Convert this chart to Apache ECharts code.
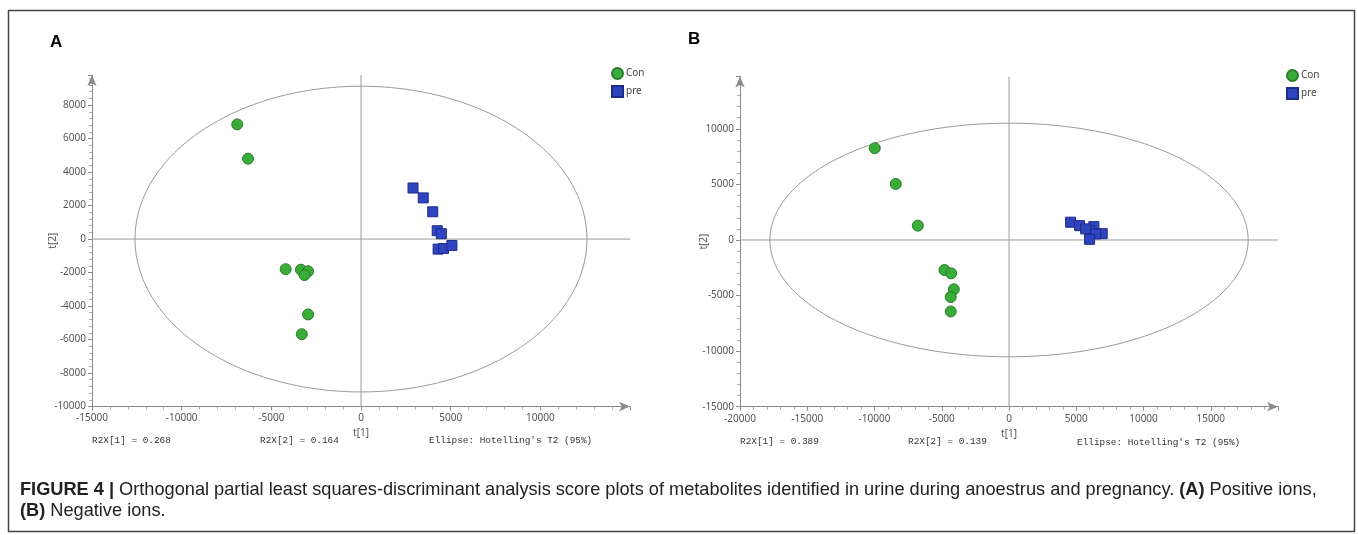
<!DOCTYPE html>
<html>
<head>
<meta charset="utf-8">
<script src="https://cdn.jsdelivr.net/npm/echarts@6/dist/echarts.min.js"></script>
<style>
html,body{margin:0;padding:0;background:#fff;}
#chart{width:1358px;height:535px;}
</style>
</head>
<body>
<div id="chart"></div>
<script>
// ---- Data ----
const conA = [[-6900, 6850], [-6300, 4800], [-4200, -1800], [-3350, -1830], [-2950, -1920], [-3150, -2150], [-2950, -4500], [-3300, -5680]];
const preA = [[2900, 3050], [3470, 2460], [4000, 1630], [4250, 500], [4480, 320], [4300, -600], [4600, -560], [5070, -380]];
const conB = [[-9980, 8260], [-8420, 5040], [-6780, 1290], [-4800, -2700], [-4300, -3000], [-4100, -4440], [-4330, -5130], [-4330, -6430]];
const preB = [[4580, 1600], [5250, 1290], [6310, 1200], [5990, 840], [6930, 570], [6440, 540], [5990, 60], [5700, 1000]];
const ellipseRadiiA = [12600, 9130];
const ellipseRadiiB = [17780, 10510];
const xRangeA = [-15000, 15000], yRangeA = [-10000, 9800];
const xRangeB = [-20000, 20000], yRangeB = [-15000, 14700];
const tickStepA = [5000, 2000], tickStepB = [5000, 5000];
const r2xA = ['R2X[1] = 0.268', 'R2X[2] = 0.164'];
const r2xB = ['R2X[1] = 0.389', 'R2X[2] = 0.139'];
const ellipseNote = "Ellipse: Hotelling's T2 (95%)";
const legendNames = ['Con', 'pre'];
const captionParts = [
  ['b', 'FIGURE 4 |'],
  ['r', ' Orthogonal partial least squares-discriminant analysis score plots of metabolites identified in urine during anoestrus and pregnancy. '],
  ['b', '(A)'],
  ['r', ' Positive ions,']
];
const captionLine2 = [['b', '(B)'], ['r', ' Negative ions.']];

function ellipsePts(r) {
  const pts = [];
  for (let i = 0; i <= 240; i++) {
    const t = i / 240 * Math.PI * 2;
    pts.push([r[0] * Math.cos(t), r[1] * Math.sin(t)]);
  }
  return pts;
}

// fit caption font size so the first line spans the same width as the reference
const capFamily = 'Liberation Sans, Arial, sans-serif';
const ctx = document.createElement('canvas').getContext('2d');
let w100 = 0;
captionParts.forEach(p => {
  ctx.font = (p[0] === 'b' ? 'bold ' : '') + '100px ' + capFamily;
  w100 += ctx.measureText(p[1]).width;
});
const capSize = Math.max(12, Math.min(20, 1298 / w100 * 100));
function richText(parts) {
  return parts.map(p => p[0] === 'b' ? '{b|' + p[1] + '}' : p[1]).join('');
}

const axisColor = '#8a8a8a';
const labelStyle = { color: '#555', fontSize: 10, fontFamily: 'Noto Sans, sans-serif', formatter: v => String(v) };

function xAxis(gi, range, step) {
  return {
    type: 'value', gridIndex: gi, min: range[0], max: range[1], interval: step,
    name: 't[1]', nameLocation: 'middle', nameGap: 22,
    nameTextStyle: { color: '#555', fontSize: 10, fontFamily: 'Noto Sans, sans-serif' },
    axisLine: { show: true, onZero: false, symbol: ['none', 'arrow'], symbolSize: [7, 11], lineStyle: { color: axisColor, width: 1 } },
    axisTick: { show: true, length: 4, inside: false, lineStyle: { color: axisColor } },
    minorTick: { show: true, splitNumber: 5, length: 3, lineStyle: { color: '#aaa' } },
    axisLabel: Object.assign({ showMaxLabel: false, margin: 7 }, labelStyle),
    splitLine: { show: false }
  };
}
function yAxis(gi, range, step, gap) {
  return {
    type: 'value', gridIndex: gi, min: range[0], max: range[1], interval: step,
    name: 't[2]', nameLocation: 'middle', nameGap: gap, nameMoveOverlap: false,
    nameTextStyle: { color: '#555', fontSize: 10, fontFamily: 'Noto Sans, sans-serif' },
    axisLine: { show: true, onZero: false, symbol: ['none', 'arrow'], symbolSize: [7, 11], lineStyle: { color: axisColor, width: 1 } },
    axisTick: { show: true, length: 4, lineStyle: { color: axisColor } },
    minorTick: { show: true, splitNumber: 5, length: 3, lineStyle: { color: '#aaa' } },
    axisLabel: Object.assign({ showMaxLabel: false, margin: 6 }, labelStyle),
    splitLine: { show: false }
  };
}
function refLine(gi, data) {
  return { type: 'line', xAxisIndex: gi, yAxisIndex: gi, data: data, symbol: 'none', silent: true,
    lineStyle: { color: '#9a9a9a', width: 1 }, z: 1 };
}
function pts(gi, name, data, shape) {
  const green = shape === 'circle';
  return { type: 'scatter', name: name, xAxisIndex: gi, yAxisIndex: gi, data: data,
    symbol: shape, symbolSize: green ? 11 : 10, z: 5,
    itemStyle: { color: green ? '#3aac3a' : '#2f45c0', borderColor: green ? '#2a7d2a' : '#1d2b8a', borderWidth: 1, opacity: 1 } };
}
function legend(left, top) {
  return { left: left, top: top, orient: 'vertical', itemWidth: 11, itemHeight: 11, itemGap: 5, padding: 0,
    textStyle: { fontSize: 10, color: '#444', fontFamily: 'Noto Sans, sans-serif', padding: [0, 0, 0, -2] },
    data: [{ name: legendNames[0], icon: 'circle' }, { name: legendNames[1], icon: 'rect' }] };
}

const chart = echarts.init(document.getElementById('chart'), null, { renderer: 'canvas' });
const monoStyle = { fontFamily: 'Liberation Mono, DejaVu Sans Mono, monospace', fontSize: 9.4, fill: '#333' };

chart.setOption({
  animation: false,
  backgroundColor: '#fff',
  grid: [
    { left: 92, top: 75, width: 538, height: 331.5 },
    { left: 740, top: 76.6, width: 538, height: 330.1 }
  ],
  xAxis: [xAxis(0, xRangeA, tickStepA[0]), xAxis(1, xRangeB, tickStepB[0])],
  yAxis: [yAxis(0, yRangeA, tickStepA[1], 34), yAxis(1, yRangeB, tickStepB[1], 31)],
  legend: [legend(611, 67), legend(1286, 69)],
  series: [
    refLine(0, [[xRangeA[0], 0], [xRangeA[1], 0]]),
    refLine(0, [[0, yRangeA[0]], [0, yRangeA[1]]]),
    refLine(0, ellipsePts(ellipseRadiiA)),
    pts(0, 'Con', conA, 'circle'),
    pts(0, 'pre', preA, 'rect'),
    refLine(1, [[xRangeB[0], 0], [xRangeB[1], 0]]),
    refLine(1, [[0, yRangeB[0]], [0, yRangeB[1]]]),
    refLine(1, ellipsePts(ellipseRadiiB)),
    pts(1, 'Con', conB, 'circle'),
    pts(1, 'pre', preB, 'rect')
  ],
  graphic: [
    { type: 'rect', silent: true, shape: { x: 8.5, y: 10.5, width: 1346, height: 521 }, style: { fill: 'none', stroke: '#444', lineWidth: 1.5 } },
    { type: 'text', left: 50, top: 34, style: { text: 'A', font: 'bold 17px Liberation Sans, Arial, sans-serif', fill: '#000' } },
    { type: 'text', left: 688, top: 31, style: { text: 'B', font: 'bold 17px Liberation Sans, Arial, sans-serif', fill: '#000' } },
    { type: 'text', left: 92, top: 436, style: Object.assign({ text: r2xA[0] }, monoStyle) },
    { type: 'text', left: 260, top: 436, style: Object.assign({ text: r2xA[1] }, monoStyle) },
    { type: 'text', left: 429, top: 436, style: Object.assign({ text: ellipseNote }, monoStyle) },
    { type: 'text', left: 740, top: 437, style: Object.assign({ text: r2xB[0] }, monoStyle) },
    { type: 'text', left: 908, top: 437, style: Object.assign({ text: r2xB[1] }, monoStyle) },
    { type: 'text', left: 1077, top: 438, style: Object.assign({ text: ellipseNote }, monoStyle) },
    { type: 'text', left: 20, top: 479, style: {
        text: richText(captionParts) + '\n' + richText(captionLine2),
        fontFamily: capFamily, fontSize: capSize, fill: '#222', lineHeight: 21,
        rich: { b: { fontWeight: 'bold', fontFamily: capFamily, fontSize: capSize, fill: '#222', lineHeight: 21 } }
    } }
  ]
});
</script>
</body>
</html>
